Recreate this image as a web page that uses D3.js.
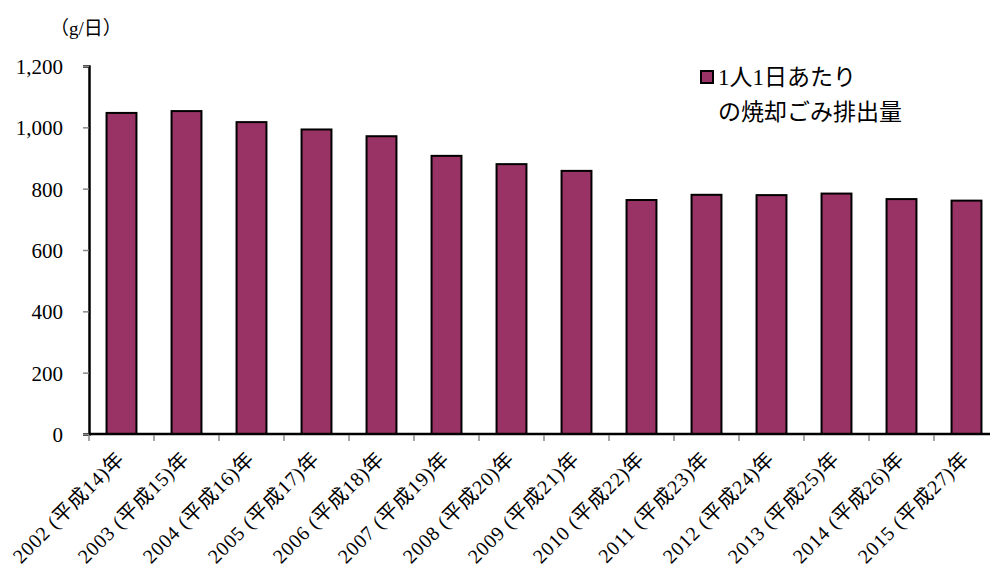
<!DOCTYPE html>
<html>
<head>
<meta charset="utf-8">
<script src="https://cdn.jsdelivr.net/npm/d3@7"></script>
<style>
  body { margin: 0; background: #fff; }
  svg text { font-family: "Liberation Serif", "DejaVu Serif", "Noto Sans CJK JP", serif; fill: #000; }
</style>
</head>
<body>
<div id="chart"></div>
<script>
// years and era labels on the x axis
const years = ["2002", "2003", "2004", "2005", "2006", "2007", "2008",
               "2009", "2010", "2011", "2012", "2013", "2014", "2015"];
const heisei = [14, 15, 16, 17, 18, 19, 20, 21, 22, 23, 24, 25, 26, 27];
// grams per person per day
const values = [1047, 1053, 1017, 993, 971, 907, 880, 858, 763, 780, 779, 784, 766, 761];
const yTicks = [0, 200, 400, 600, 800, 1000, 1200];

const width = 990;
const height = 572;
const margin = {left: 89, right: -9, top: 66, bottom: 138};

const svg = d3.select("#chart")
    .append("svg")
    .attr("width", width)
    .attr("height", height);

const x = d3.scaleBand()
    .domain(years)
    .range([margin.left, width - margin.right])
    .paddingInner(0.54)
    .paddingOuter(0.27);

const y = d3.scaleLinear()
    .domain([0, 1200])
    .range([height - margin.bottom, margin.top]);

// bars
svg.selectAll("rect.bar")
    .data(values)
    .enter()
    .append("rect")
    .attr("class", "bar")
    .attr("x", (d, i) => x(years[i]))
    .attr("y", d => y(d))
    .attr("width", x.bandwidth())
    .attr("height", d => y(0) - y(d))
    .attr("fill", "#993366")
    .attr("stroke", "#000")
    .attr("stroke-width", 2);

// y axis
const yAxis = svg.append("g")
    .attr("transform", `translate(${margin.left},0)`)
    .call(d3.axisLeft(y).tickValues(yTicks).tickSize(6).tickPadding(20)
        .tickFormat(d3.format(",")));
yAxis.select(".domain").attr("stroke", "#000").attr("stroke-width", 2.5);
yAxis.selectAll(".tick line").attr("stroke", "#888").attr("stroke-width", 1.5);
yAxis.selectAll(".tick text").attr("font-size", 21).attr("dy", "0.35em");

// x axis: ticks on band boundaries
const xg = svg.append("g")
    .attr("transform", `translate(0,${y(0)})`);
xg.append("line")
    .attr("x1", margin.left).attr("x2", width)
    .attr("stroke", "#000").attr("stroke-width", 2.5);
const step = x.step();
const boundary = d => x(d) + x.bandwidth() / 2 - step / 2;
xg.selectAll("line.tk")
    .data(years)
    .enter()
    .append("line")
    .attr("class", "tk")
    .attr("x1", boundary)
    .attr("x2", boundary)
    .attr("y1", 1).attr("y2", 7)
    .attr("stroke", "#888").attr("stroke-width", 1.5);

// rotated category labels
svg.selectAll("text.xlab")
    .data(years)
    .enter()
    .append("text")
    .attr("class", "xlab")
    .attr("font-size", 20)
    .attr("letter-spacing", 0.8)
    .attr("text-anchor", "end")
    .attr("transform", d => `translate(${x(d) + x.bandwidth() / 2 + 4},${y(0) + 26}) rotate(-45)`)
    .text((d, i) => `${d} (平成${heisei[i]})年`);

// unit label
svg.append("text")
    .attr("x", 50).attr("y", 35)
    .attr("font-size", 19)
    .text("（g/日）");

// legend
const lg = svg.append("g");
lg.append("rect")
    .attr("x", 701).attr("y", 71)
    .attr("width", 12).attr("height", 12)
    .attr("fill", "#993366")
    .attr("stroke", "#000").attr("stroke-width", 2);
lg.append("text")
    .attr("x", 718).attr("y", 85)
    .attr("font-size", 23)
    .text("1人1日あたり");
lg.append("text")
    .attr("x", 718).attr("y", 120)
    .attr("font-size", 23)
    .text("の焼却ごみ排出量");
</script>
</body>
</html>
